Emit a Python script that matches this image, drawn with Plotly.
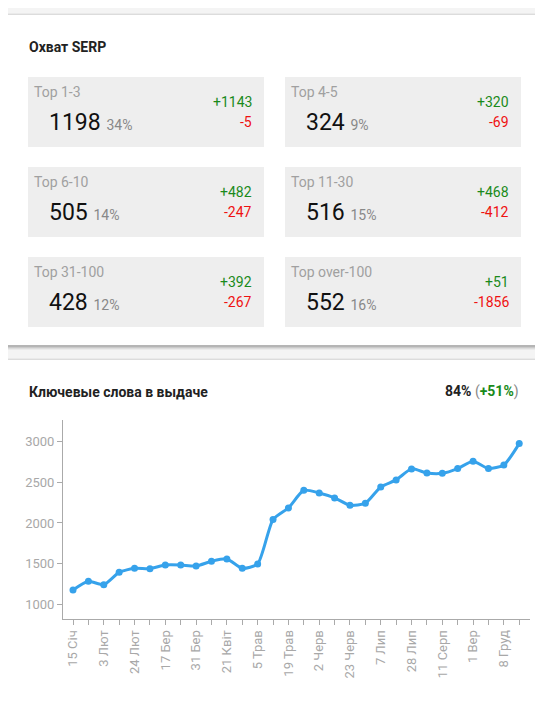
import plotly.graph_objects as go

W, H = 543, 711
dates = ["15 Січ","a1","3 Лют","a3","24 Лют","a5","17 Бер","a7","31 Бер","a9","21 Квіт","a11","5 Трав","a13",
         "19 Трав","a15","2 Черв","a17","23 Черв","a19","7 Лип","a21","28 Лип","a23","11 Серп","a25","1 Вер","a27","8 Груд","a29"]
values = [1173,1280,1239,1391,1440,1436,1481,1481,1469,1527,1556,1440,1494,2041,2185,2403,2370,2309,2218,2243,
          2444,2531,2667,2617,2613,2671,2761,2671,2716,2979]
tick_labels = [d if not d.startswith("a") else "" for d in dates]

box_titles = ["Top 1-3","Top 4-5","Top 6-10","Top 11-30","Top 31-100","Top over-100"]
box_counts = [1198,324,505,516,428,552]
box_pcts = ["34%","9%","14%","15%","12%","16%"]
box_plus = ["+1143","+320","+482","+468","+392","+51"]
box_minus = ["-5","-69","-247","-412","-267","-1856"]

OFF = 8  # page body margin
def px(x): return (x - OFF) / W
def py(y): return 1 - (y - OFF) / H

fig = go.Figure(go.Scatter(x=dates, y=values, mode="lines+markers", line=dict(color="#36a2eb", width=3, shape="spline", smoothing=0.6),
                           marker=dict(size=7, color="#36a2eb"), hoverinfo="x+y"))

shapes, ann = [], []
def card(x0, y0, x1, y1):
    for i, op in [(4, 0.04), (3, 0.06), (2, 0.08), (1, 0.1)]:
        shapes.append(dict(type="rect", xref="paper", yref="paper", x0=px(x0 - i + 1), x1=px(x1 + i - 1),
                           y0=py(y1 + i + 1), y1=py(y0 - i + 2), fillcolor=f"rgba(0,0,0,{op})", line_width=0, layer="below"))
    shapes.append(dict(type="rect", xref="paper", yref="paper", x0=px(x0), x1=px(x1), y0=py(y1), y1=py(y0),
                       fillcolor="white", line_width=0, layer="below"))
card(8, 15, 540, 345)
card(8, 360, 540, 730)

ann.append(dict(text="<b>Охват SERP</b>", x=px(27), y=py(47), xanchor="left", yanchor="middle", font=dict(size=14, color="#222")))
ann.append(dict(text="<b>Ключевые слова в выдаче</b>", x=px(27), y=py(392), xanchor="left", yanchor="middle", font=dict(size=14, color="#222")))
ann.append(dict(text="<b>84%</b> <span style='color:#888'>(</span><b><span style='color:#1a8a1a'>+51%</span></b><span style='color:#888'>)</span>",
                x=px(521), y=py(392), xanchor="right", yanchor="middle", font=dict(size=14, color="#222")))

for i in range(6):
    col, row = i % 2, i // 2
    x0 = 28 if col == 0 else 285
    y0 = 77 + row * 90
    shapes.append(dict(type="rect", xref="paper", yref="paper", x0=px(x0), x1=px(x0 + 236), y0=py(y0 + 70), y1=py(y0),
                       fillcolor="#eeeeee", line_width=0, layer="below"))
    ann.append(dict(text=box_titles[i], x=px(x0 + 4), y=py(y0 + 15), xanchor="left", yanchor="middle", font=dict(size=14, color="#a0a0a0")))
    ann.append(dict(text=f"{box_counts[i]} <span style='font-size:14px;color:#888'>{box_pcts[i]}</span>",
                    x=px(x0 + 19), y=py(y0 + 45), xanchor="left", yanchor="middle", font=dict(size=23, color="#111")))
    ann.append(dict(text=box_plus[i], x=px(x0 + 226), y=py(y0 + 25), xanchor="right", yanchor="middle", font=dict(size=14, color="#1a8a1a")))
    ann.append(dict(text=box_minus[i], x=px(x0 + 226), y=py(y0 + 45), xanchor="right", yanchor="middle", font=dict(size=14, color="#ee1111")))

for a in ann:
    a.update(xref="paper", yref="paper", showarrow=False)

fig.update_layout(
    width=W, height=H, margin=dict(l=0, r=0, t=0, b=0), paper_bgcolor="#f4f4f4", plot_bgcolor="rgba(0,0,0,0)",
    font=dict(family="Roboto", color="#222"), showlegend=False, shapes=shapes, annotations=ann,
    xaxis=dict(domain=[px(63), px(530)], range=[-0.65, 29.7], type="category", tickmode="array", tickvals=dates, ticktext=tick_labels,
               tickangle=-90, showgrid=False, zeroline=False, showline=True, linecolor="#aaaaaa", ticks="outside", ticklen=5,
               tickcolor="#aaaaaa", tickfont=dict(size=13, color="#a8a8a8")),
    yaxis=dict(domain=[py(619), py(420)], range=[815, 3270], tickvals=[1000, 1500, 2000, 2500, 3000], showgrid=False, zeroline=False,
               showline=True, linecolor="#aaaaaa", ticks="outside", ticklen=5, tickcolor="#aaaaaa", tickfont=dict(size=13, color="#a8a8a8")),
)
fig.write_html("out.html")
